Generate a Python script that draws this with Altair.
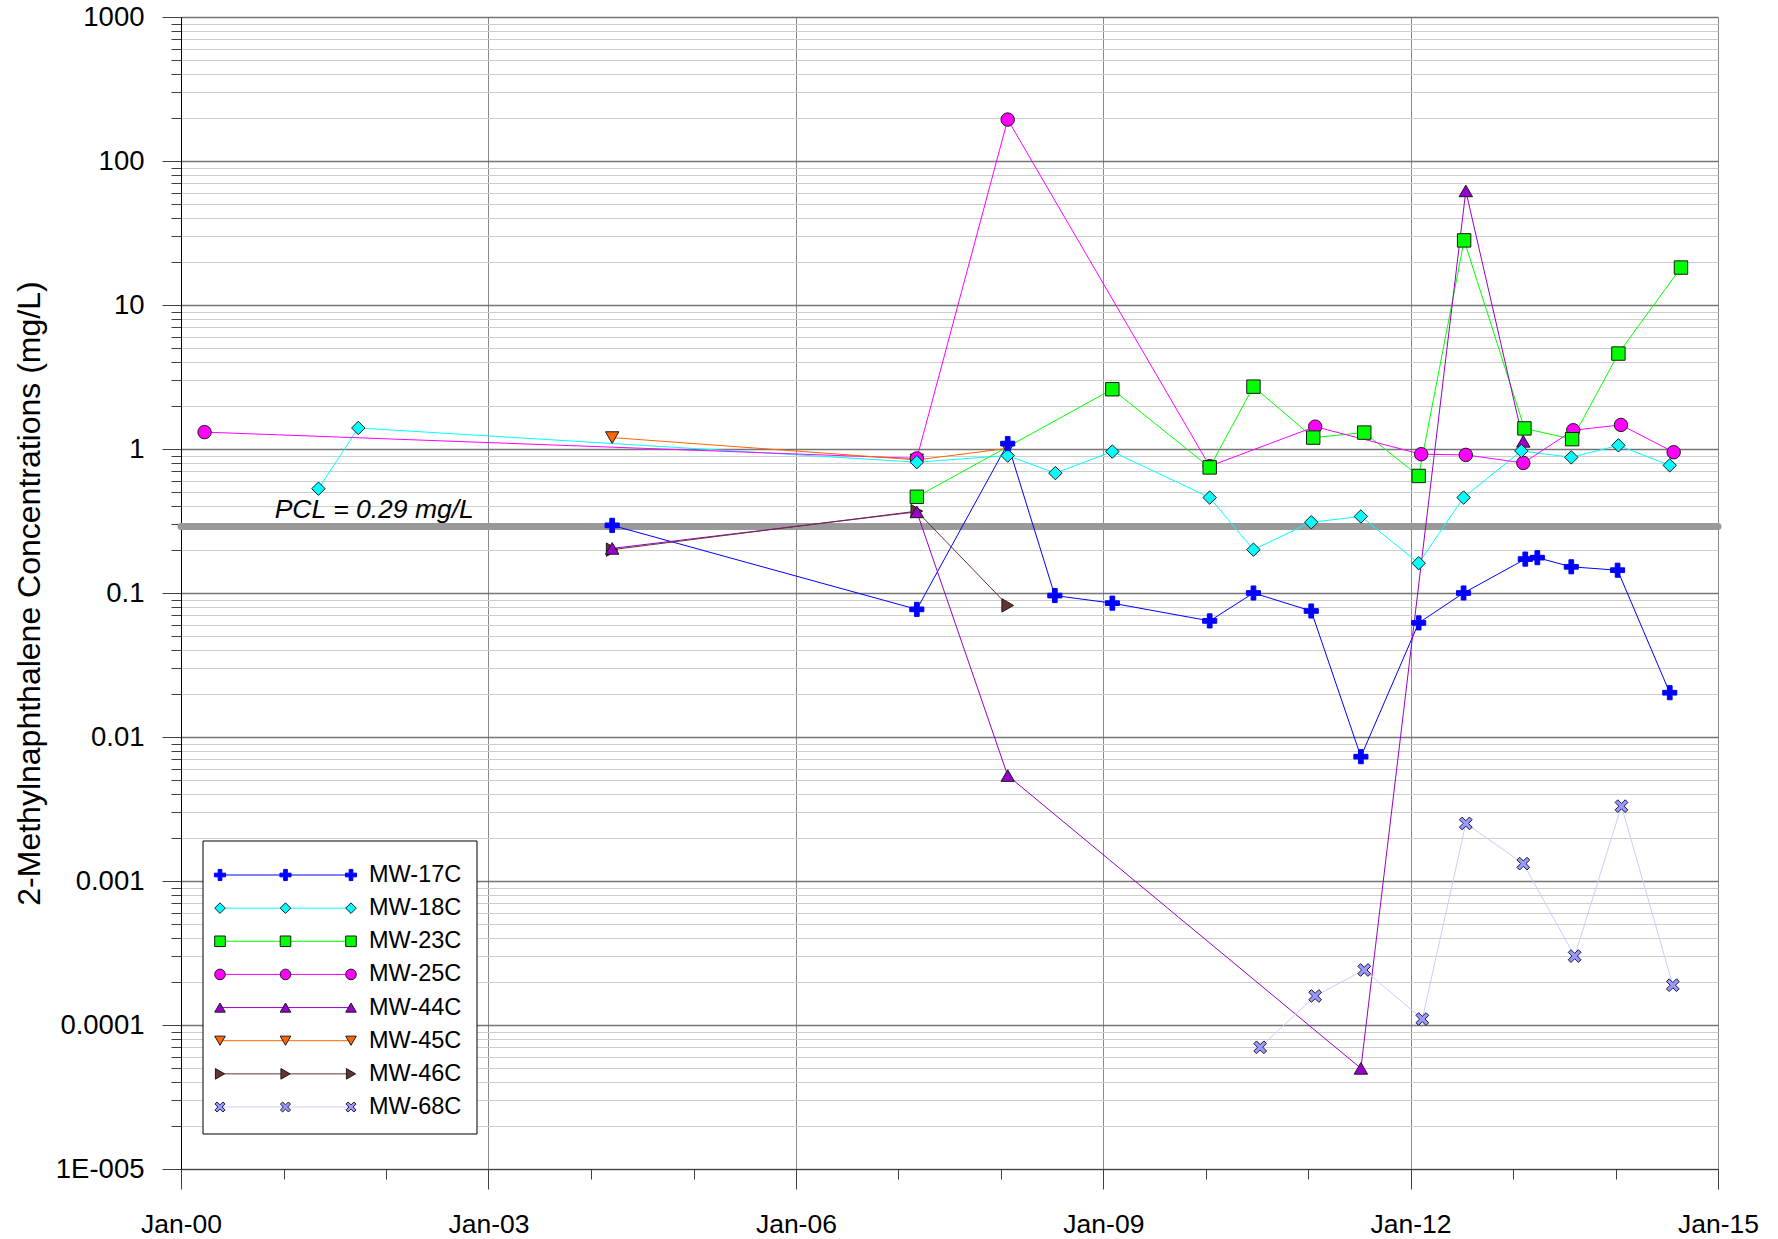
import altair as alt
import pandas as pd

# ---- measurements (mg/L) per monitoring well ----
WELLS = ["MW-17C", "MW-18C", "MW-23C", "MW-25C", "MW-44C", "MW-45C", "MW-46C", "MW-68C"]

mw17c_dates = ["2004-03-17", "2007-03-08", "2008-01-26", "2008-07-12", "2009-02-02", "2010-01-15",
               "2010-06-20", "2011-01-12", "2011-07-08", "2012-01-30", "2012-07-08", "2013-02-13",
               "2013-03-28", "2013-07-27", "2014-01-08", "2014-07-13"]
mw17c_values = [0.295, 0.077, 1.09, 0.096, 0.085, 0.064, 0.10, 0.075, 0.0073, 0.062, 0.10, 0.172,
                0.176, 0.152, 0.144, 0.0203]

mw18c_dates = ["2001-05-05", "2001-09-24", "2007-03-08", "2008-01-26", "2008-07-14", "2009-02-02",
               "2010-01-15", "2010-06-20", "2011-01-12", "2011-07-08", "2012-01-30", "2012-07-08",
               "2013-01-30", "2013-07-27", "2014-01-11", "2014-07-13"]
mw18c_values = [0.53, 1.40, 0.81, 0.90, 0.68, 0.96, 0.46, 0.20, 0.31, 0.34, 0.161, 0.46,
                0.97, 0.875, 1.06, 0.77]

mw23c_dates = ["2007-03-08", "2009-02-02", "2010-01-15", "2010-06-20", "2011-01-19", "2011-07-20",
               "2012-01-30", "2012-07-10", "2013-02-10", "2013-07-30", "2014-01-11", "2014-08-22"]
mw23c_values = [0.466, 2.6, 0.745, 2.71, 1.20, 1.30, 0.65, 28.1, 1.39, 1.17, 4.6, 18.2]

mw25c_dates = ["2000-03-25", "2007-03-08", "2008-01-26", "2010-01-15", "2011-01-26", "2012-02-08",
               "2012-07-16", "2013-02-06", "2013-08-03", "2014-01-20", "2014-07-27"]
mw25c_values = [1.31, 0.86, 194, 0.76, 1.43, 0.92, 0.91, 0.80, 1.35, 1.47, 0.95]

mw44c_dates = ["2004-03-17", "2007-03-08", "2008-01-26", "2011-07-08", "2012-07-16", "2013-02-06"]
mw44c_values = [0.204, 0.366, 0.0054, 0.00005, 62, 1.13]

mw45c_dates = ["2004-03-17", "2007-03-08", "2008-01-26"]
mw45c_values = [1.20, 0.84, 1.01]

mw46c_dates = ["2004-03-17", "2007-03-08", "2008-01-26"]
mw46c_values = [0.20, 0.37, 0.082]

mw68c_dates = ["2010-07-14", "2011-01-26", "2011-07-20", "2012-02-12", "2012-07-16", "2013-02-06",
               "2013-08-08", "2014-01-22", "2014-07-24"]
mw68c_values = [0.00007, 0.000159, 0.000241, 0.00011, 0.00251, 0.00132, 0.000301, 0.00331, 0.000189]

PCL_VALUE = 0.29
PCL_LABEL_DATE = "2000-11-30"

series = [
    ("MW-17C", mw17c_dates, mw17c_values),
    ("MW-18C", mw18c_dates, mw18c_values),
    ("MW-23C", mw23c_dates, mw23c_values),
    ("MW-25C", mw25c_dates, mw25c_values),
    ("MW-44C", mw44c_dates, mw44c_values),
    ("MW-45C", mw45c_dates, mw45c_values),
    ("MW-46C", mw46c_dates, mw46c_values),
    ("MW-68C", mw68c_dates, mw68c_values),
]
df = pd.DataFrame(
    [{"well": w, "date": d, "conc": v} for w, ds, vs in series for d, v in zip(ds, vs)]
)
# draw the first wells last so their markers sit on top
df_points = pd.concat([df[df.well == w] for w in reversed(WELLS)], ignore_index=True)

# ---- styling ----
FONT = "Liberation Sans"
LINE_COLORS = ["#0000FF", "#00FFFF", "#00FF00", "#FF00FF", "#9900CC", "#FF6600", "#663333", "#CCCCFF"]
FILL_COLORS = ["#0000FF", "#00FFFF", "#00FF00", "#FF00FF", "#9900CC", "#FF6600", "#663333", "#9999FF"]
EDGE_COLORS = ["#0000FF", "#1a1a1a", "#1a1a1a", "#1a1a1a", "#1a1a1a", "#1a1a1a", "#1a1a1a", "#1a1a33"]
PLUS = ("M-1.05,-0.35L-0.35,-0.35L-0.35,-1.05L0.35,-1.05L0.35,-0.35L1.05,-0.35L1.05,0.35"
        "L0.35,0.35L0.35,1.05L-0.35,1.05L-0.35,0.35L-1.05,0.35Z")
XMARK = ("M-0.95,-0.55L-0.55,-0.95L0,-0.4L0.55,-0.95L0.95,-0.55L0.4,0L0.95,0.55L0.55,0.95"
         "L0,0.4L-0.55,0.95L-0.95,0.55L-0.4,0Z")
SHAPES = [PLUS, "diamond", "square", "circle", "triangle-up", "triangle-down", "triangle-right", XMARK]

color_scale = alt.Scale(domain=WELLS, range=LINE_COLORS)
fill_scale = alt.Scale(domain=WELLS, range=FILL_COLORS)
edge_scale = alt.Scale(domain=WELLS, range=EDGE_COLORS)
shape_scale = alt.Scale(domain=WELLS, range=SHAPES)

W, H = 1537, 1152

x_scale = alt.Scale(
    type="utc",
    domain=[alt.DateTime(year=2000, month=1, date=1, utc=True),
            alt.DateTime(year=2015, month=1, date=1, utc=True)],
)
y_scale = alt.Scale(type="log", domain=[1e-5, 1000], nice=False)

major_years = [2000, 2003, 2006, 2009, 2012, 2015]
minor_years = [y for y in range(2000, 2016) if y not in major_years]
decades = [10.0 ** e for e in range(-5, 4)]
minor_decade_steps = [m * 10.0 ** e for e in range(-5, 3) for m in range(2, 10)]

major_x_axis = alt.Axis(
    orient="bottom",
    values=[alt.DateTime(year=y, month=1, date=1, utc=True) for y in major_years],
    labelExpr="utcFormat(datum.value, '%b-%y')",
    grid=True, gridColor="#8a8a8a", gridWidth=1,
    tickSize=20, tickColor="#404040", tickWidth=1,
    domain=True, domainColor="#404040", domainWidth=1,
    labelFont=FONT, labelFontSize=26.5, labelColor="black", labelPadding=22,
    labelFlush=False, labelOverlap=False, title=None,
)
minor_x_axis = alt.Axis(
    orient="bottom",
    values=[alt.DateTime(year=y, month=1, date=1, utc=True) for y in minor_years],
    grid=False, labels=False, domain=False,
    tickSize=10, tickColor="#404040", tickWidth=1, title=None,
)
major_y_axis = alt.Axis(
    orient="left",
    values=decades,
    labelExpr="datum.value < 0.00005 ? '1E-005' : toString(datum.value)",
    grid=True, gridColor="#737373", gridWidth=1.3,
    tickSize=19, tickColor="#404040", tickWidth=1,
    domain=True, domainColor="black", domainWidth=1,
    labelFont=FONT, labelFontSize=27.5, labelColor="black", labelPadding=18,
    labelOverlap=False, labelFlush=False,
    title="2-Methylnaphthalene Concentrations (mg/L)",
    titleFont=FONT, titleFontSize=32, titleFontWeight="normal", titleColor="black",
    titleAngle=270, titleAlign="center", titleBaseline="alphabetic",
    titleX=-142, titleY=H / 2,
)
minor_y_axis = alt.Axis(
    orient="left",
    values=minor_decade_steps,
    grid=True, gridColor="#cdcdcd", gridWidth=1.2,
    labels=False, domain=False,
    tickSize=10, tickColor="#404040", tickWidth=1, title=None,
)

base = alt.Chart(df)

pcl_df = pd.DataFrame({"date": [PCL_LABEL_DATE], "conc": [PCL_VALUE]})

pcl_rule = alt.Chart(pcl_df).mark_rule(
    color="#999999", strokeWidth=7, strokeCap="round"
).encode(y=alt.Y("conc:Q", scale=y_scale, axis=None))

lines = base.mark_line(strokeWidth=1, interpolate="linear").encode(
    x=alt.X("date:T", scale=x_scale, axis=minor_x_axis),
    y=alt.Y("conc:Q", scale=y_scale, axis=minor_y_axis),
    color=alt.Color("well:N", scale=color_scale, legend=None),
)

points = alt.Chart(df_points).mark_point(
    filled=True, opacity=1, size=180, strokeWidth=1
).encode(
    x=alt.X("date:T", scale=x_scale, axis=major_x_axis),
    y=alt.Y("conc:Q", scale=y_scale, axis=major_y_axis),
    fill=alt.Fill("well:N", scale=fill_scale, legend=None),
    stroke=alt.Stroke("well:N", scale=edge_scale, legend=None),
    shape=alt.Shape("well:N", scale=shape_scale, legend=None),
)

pcl_text = alt.Chart(pcl_df).mark_text(
    text=f"PCL = {PCL_VALUE} mg/L", align="left", baseline="alphabetic", dy=-8,
    font=FONT, fontSize=26.5, fontStyle="italic", color="black",
).encode(
    x=alt.X("date:T", scale=x_scale, axis=None),
    y=alt.Y("conc:Q", scale=y_scale, axis=None),
)

main = alt.layer(pcl_rule, lines, points, pcl_text).resolve_axis(x="independent", y="independent")

# ---- legend panel: a line with three markers per well ----
legend_df = pd.DataFrame([{"well": w, "slot": s} for w in WELLS for s in (0, 1, 2)])
legend_names = pd.DataFrame({"well": WELLS})

leg_x = alt.X("slot:Q", scale=alt.Scale(domain=[0, 2], range=[39, 170]), axis=None)
leg_y = alt.Y("well:N", scale=alt.Scale(type="point", domain=WELLS, range=[858, 1090], padding=0),
              axis=None)

legend_box = alt.Chart(pd.DataFrame({"k": [0]})).mark_rect(
    fill="white", stroke="black", strokeWidth=1
).encode(x=alt.value(22), x2=alt.value(296), y=alt.value(824), y2=alt.value(1117))

legend_lines = alt.Chart(legend_df).mark_line(strokeWidth=1).encode(
    x=leg_x, y=leg_y, color=alt.Color("well:N", scale=color_scale, legend=None)
)
legend_points = alt.Chart(legend_df).mark_point(
    filled=True, opacity=1, size=112, strokeWidth=1
).encode(
    x=leg_x, y=leg_y,
    fill=alt.Fill("well:N", scale=fill_scale, legend=None),
    stroke=alt.Stroke("well:N", scale=edge_scale, legend=None),
    shape=alt.Shape("well:N", scale=shape_scale, legend=None),
)
legend_text = alt.Chart(legend_names).mark_text(
    align="left", baseline="middle", font=FONT, fontSize=23.5, color="black"
).encode(x=alt.value(188), y=leg_y, text="well:N")

legend = alt.layer(legend_box, legend_lines, legend_points, legend_text)

chart = (
    alt.layer(main, legend)
    .resolve_scale(x="independent", y="independent")
    .properties(
        width=W, height=H,
        autosize=alt.AutoSizeParams(type="none"),
        padding={"left": 181, "top": 17, "right": 60, "bottom": 70},
        background="white",
    )
    .configure_view(stroke=None)
    .configure(font=FONT)
)

chart.save("out.html", embed_options={"renderer": "svg", "actions": False})
